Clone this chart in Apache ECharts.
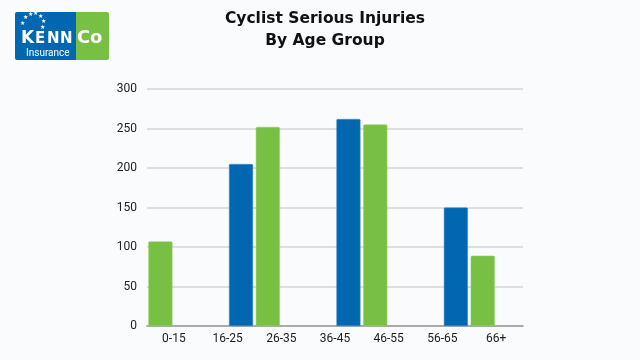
<!DOCTYPE html>
<html><head><meta charset="utf-8">
<script src="https://cdn.jsdelivr.net/npm/echarts@6/dist/echarts.min.js"></script>
<style>html,body{margin:0;padding:0;background:#fafbfd}#c{width:640px;height:360px}</style>
</head><body><div id="c"></div>
<script>
const categories = ['0-15','16-25','26-35','36-45','46-55','56-65','66+'];
const greenValues = [107, '-', 252, '-', 255, '-', 89];
const blueValues = ['-', 205, '-', 262, '-', 150, '-'];
const yTicks = {min: 0, max: 300, interval: 50};

const chart = echarts.init(document.getElementById('c'), null, {renderer: 'canvas'});
const starPos = [[23,24],[26,18],[31,15],[36,14],[41,17],[44,22],[43,28]];
const stars = starPos.map(p => ({type:'text', left:p[0]-3, top:p[1]-4, style:{text:'★', fill:'#fff', font:'6px DejaVu Sans'}}));
const letters = [['K',21,30,17],['E',35,32,15],['N',47,32,15],['N',60,32,15],['C',77,29,18],['o',90,29,18]];
const letterEls = letters.map(l => ({type:'text', left:l[1], top:l[2], style:{text:l[0], fill:'#fff', font:'bold ' + l[3] + 'px DejaVu Sans'}}));
chart.setOption({
  backgroundColor: '#fafbfd',
  animation: false,
  title: {
    text: 'Cyclist Serious Injuries\nBy Age Group',
    left: 320, top: 3, textAlign: 'center',
    textStyle: {fontFamily: 'DejaVu Sans', fontWeight: 'bold', fontSize: 15.5, color: '#111', lineHeight: 22}
  },
  graphic: [
    {type:'rect', left:15, top:12, shape:{width:62, height:48, r:[2,0,0,2]}, style:{fill:'#0267b1'}},
    {type:'rect', left:76, top:12, shape:{width:33, height:48, r:[0,2,2,0]}, style:{fill:'#78c043'}},
    ...stars,
    ...letterEls,
    {type:'text', left:26, top:48, style:{text:'Insurance', fill:'#fff', font:'10px Roboto'}}
  ],
  grid: {left: 147, right: 117, top: 89, bottom: 34},
  xAxis: {
    type: 'category', data: categories,
    axisLine: {lineStyle: {color: '#999', width: 1.5}},
    axisTick: {show: false},
    axisLabel: {color: '#222', fontFamily: 'Roboto', fontSize: 12, margin: 7}
  },
  yAxis: {
    type: 'value', min: yTicks.min, max: yTicks.max, interval: yTicks.interval,
    axisLine: {show: false}, axisTick: {show: false},
    axisLabel: {color: '#222', fontFamily: 'Roboto', fontSize: 12, margin: 10},
    splitLine: {lineStyle: {color: '#d4d4d6', width: 1.5}}
  },
  series: [
    {type: 'bar', name: 'green', data: greenValues, barWidth: 24, barGap: '12%',
     itemStyle: {color: '#78c043', borderColor: '#8fd05e', borderWidth: 0.5, borderRadius: [1,1,0,0]}},
    {type: 'bar', name: 'blue', data: blueValues, barWidth: 24,
     itemStyle: {color: '#0267b1', borderColor: '#3d8bc8', borderWidth: 0.5, borderRadius: [1,1,0,0]}}
  ]
});
</script></body></html>
